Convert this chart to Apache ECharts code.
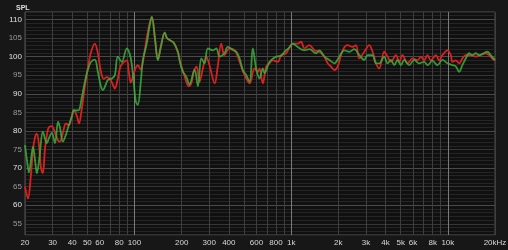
<!DOCTYPE html>
<html><head><meta charset="utf-8">
<script src="https://cdn.jsdelivr.net/npm/echarts@6/dist/echarts.min.js"></script>
<style>html,body{margin:0;padding:0;background:#171717;}#c{width:508px;height:250px;}</style>
</head><body><div id="c"></div>
<script>
// Red trace (frequency Hz, SPL dB)
const redFreq = [20,20.9,21.8,22.5,23.2,23.8,24.6,25.3,26.0,26.8,27.6,28.4,29.7,31.1,32.5,33.4,34.9,36.5,38.1,39.9,41.0,42.9,44.2,46.1,48.2,50.4,52.6,55.8,58.3,61.0,63.7,66.6,69.6,72.7,74.9,78.2,81.8,89.3,91.9,94.7,98.9,104.9,109.6,114.6,119.7,125.1,129,135,141,147,156,161,170,178,189,197,206,215,221,231,238,249,260,273,287,301,325,339,358,375,404,436,469,504,543,583,613,628,659,693,728,763,822,863,929,975,1023,1100,1157,1215,1307,1406,1514,1629,1710,1797,1886,1980,2130,2292,2467,2592,2722,2928,3151,3308,3477,3649,3927,4122,4332,4663,4894,5136,5527,5947,6400,6727,7061,7411,7790,8383,8799,9235,9938,10446,10694,11241,11800,12384,13015,14006,15073,16218,17453,18320,19228,20000];
const redSPL = [65,61.8,68,75,78.4,79.3,76,70,68.6,75,79,81,81.3,79.5,77.5,77.1,79.5,82,81.5,84,85.6,84,82,86,91.9,97,101,103.5,101,96,94,94.5,94,92.5,91.4,94,97.5,99,96,93,95.5,97.7,96.5,100,105,109,110.7,105,99.2,102.5,106.4,105,104.3,103.7,101.3,98,95.5,93,92,93,95.9,97.3,93.2,96.8,100,97.7,92.8,97,103.5,100.4,102.2,101.7,98.6,95,92.8,96.8,95.9,96.8,92.8,97.3,98.2,99,98.6,100.4,100.9,102.5,103.5,103.5,104,102.2,103.1,101.7,101.3,100,98.2,97.3,96.4,97.3,101.7,103.1,102.6,103.1,99.5,101.3,103.1,101.3,98.2,96.8,101.3,100,98.6,100.4,98.6,100.4,98.2,99.5,99,100,99,100.4,99,100.4,99,100.4,101.7,100.4,98.6,99,98.2,99.5,100.4,100.4,100,100.4,100.9,100.4,99.5,99];
// Green trace (frequency Hz, SPL dB)
const greenFreq = [20,20.6,21.2,21.8,22.5,23.2,23.8,24.6,26.0,26.8,27.6,28.4,29.7,31.1,32.5,33.4,34.9,36.5,38.1,39.9,41.0,42.9,44.2,46.1,48.2,50.4,52.6,55.8,58.3,61.0,62.8,65.6,67.6,71.7,74.9,78.2,83.0,89.3,94.7,98.9,101.8,104.9,109.6,113,119.7,125.1,129,135,141,147,156,161,170,178,189,194,203,214,224,242,254,267,280,294,317,333,349,375,394,426,447,469,491,517,543,569,598,628,659,676,728,802,863,906,975,1023,1100,1215,1307,1442,1514,1629,1753,1886,2030,2184,2350,2529,2722,2928,3073,3308,3477,3649,3927,4122,4332,4548,4773,5017,5266,5667,6097,6562,7061,7411,7975,8582,9235,9938,10694,11241,11800,12384,13015,13662,14340,15073,15820,16604,17868,18782,20000];
const greenSPL = [76.2,72,68.8,72,75.8,72,68.6,72,79.8,78,76.7,78,79.5,76.7,82.5,81,77.1,79,81.6,84,85.6,85.5,85.6,89,93.2,96.5,98.5,99.2,96,92,91,92.5,93.7,94.1,95,100,98.6,102.2,99.5,93,88,87,93,99,103.5,108.5,110.7,105,99,102.5,106.5,105,104.3,103.7,101.3,99,96,94.6,92.5,96.4,92,99.5,98.2,102.2,101.7,102.2,100,100.9,102.6,101.7,101.3,99.5,96.4,95,93.2,102.2,96.8,94.1,96.8,95.5,98.6,100,100.2,101.3,102.5,103.5,102.6,101.7,102,100.9,101.7,100,99.1,98.2,100,101.7,101.3,102,100.4,99.1,100.4,100.4,98.2,98.2,100,98.2,99.1,97.7,99.1,97.7,99.1,97.7,99.1,98.2,98.6,97.7,98.9,97.7,99.1,98.2,97.7,97.4,95.9,97.7,99.5,100.9,100.4,100.9,100.4,100.7,101.3,100.4,99];
// Vertical grid frequencies and x tick labels
const gridFreqs = [20,30,40,50,60,70,80,90,100,200,300,400,500,600,700,800,900,1000,2000,3000,4000,5000,6000,7000,8000,9000,10000,20000];
const tickFreqs = [20,30,40,50,60,80,100,200,300,400,600,800,1000,2000,3000,4000,5000,6000,8000,10000,20000];
const tickLabels = ['20','30','40','50','60','80','100','200','300','400','600','800','1k','2k','3k','4k','5k','6k','8k','10k','20kHz'];
const decadeFreqs = [100,1000,10000];
// y axis
const yMin = 52, yMax = 112;

const font = 'Liberation Sans, Arial, sans-serif';
const chart = echarts.init(document.getElementById('c'), null, {renderer: 'canvas'});
const zip = (fs, vs) => fs.map((f, i) => [f, vs[i]]);

const vLines = gridFreqs.map(f => {
  const idx = tickFreqs.indexOf(f);
  const isDec = decadeFreqs.indexOf(f) >= 0;
  return {
    xAxis: f,
    lineStyle: {color: isDec ? '#7a7a7a' : '#3e3e3e', width: 1, type: 'solid'},
    label: idx >= 0 ? {show: true, formatter: tickLabels[idx], position: 'start', distance: 4,
      color: '#d8d8d8', fontSize: 8, fontFamily: font} : {show: false}
  };
});

chart.setOption({
  backgroundColor: '#171717',
  animation: false,
  title: {text: 'SPL', left: 11, top: 0, textStyle: {color: '#e0e0e0', fontSize: 7, fontWeight: 'bold', fontFamily: font}},
  grid: {left: 25, right: 13, top: 12, bottom: 15, show: true, backgroundColor: '#101010', borderColor: '#555', borderWidth: 1},
  xAxis: {type: 'log', logBase: 10, min: 20, max: 20000, show: false},
  yAxis: {
    type: 'value', min: yMin, max: yMax, interval: 1,
    axisLine: {show: false}, axisTick: {show: false},
    axisLabel: {
      margin: 3, fontSize: 8, fontFamily: font,
      formatter: v => (v % 5 === 0) ? (v % 10 === 0 ? '{t|' + v + '}' : '{f|' + v + '}') : '',
      rich: {t: {color: '#e0e0e0', fontSize: 8, fontFamily: font}, f: {color: '#9a9a9a', fontSize: 8, fontFamily: font}}
    },
    splitLine: {show: true, lineStyle: {width: 1,
      color: ['#252525','#252525','#252525','#363636','#252525','#252525','#252525','#252525','#4a4a4a','#252525']}}
  },
  series: [
    {type: 'line', name: 'red', data: zip(redFreq, redSPL), smooth: 0.35, showSymbol: false, symbol: 'none',
      lineStyle: {color: '#dc2020', width: 1.8}, z: 2,
      markLine: {silent: true, symbol: ['none', 'none'], z: 1, animation: false, data: vLines}},
    {type: 'line', name: 'green', data: zip(greenFreq, greenSPL), smooth: 0.35, showSymbol: false, symbol: 'none',
      lineStyle: {color: '#3cae3c', width: 1.8, opacity: 0.85}, z: 3}
  ]
});
</script></body></html>
